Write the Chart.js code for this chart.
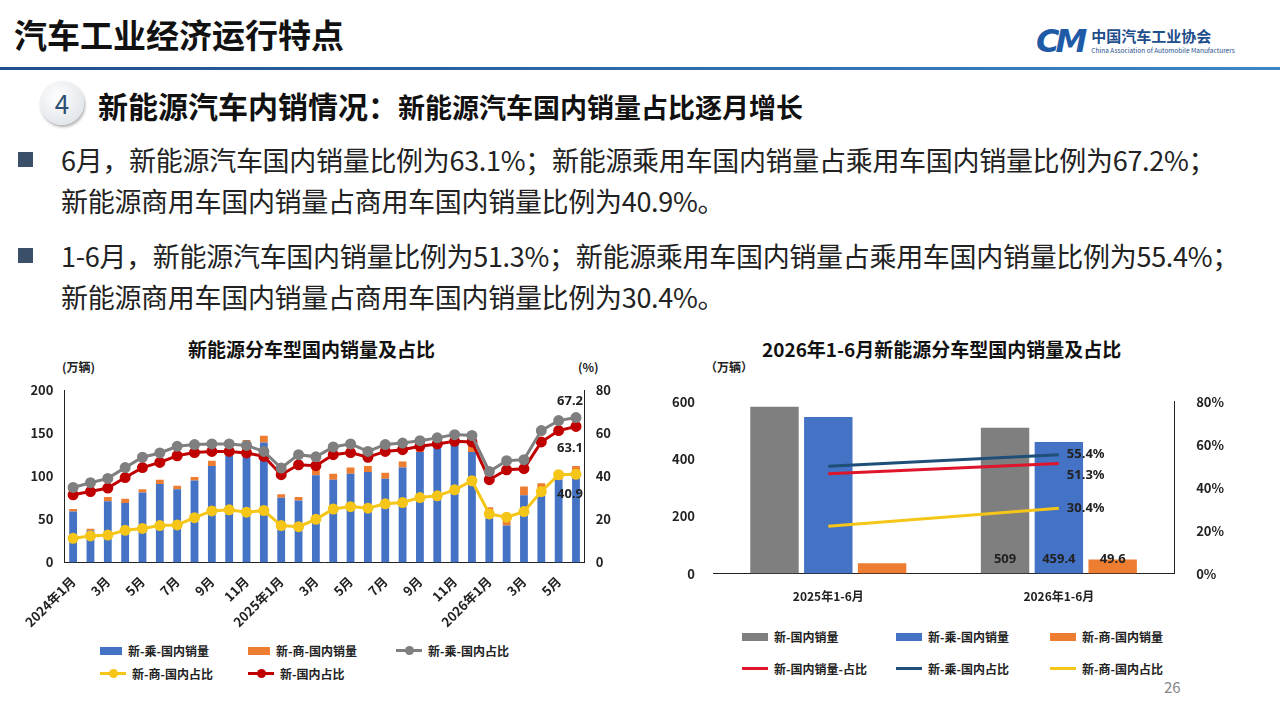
<!DOCTYPE html>
<html><head><meta charset="utf-8">
<script src="https://cdn.jsdelivr.net/npm/chart.js@4"></script>
<style>
body{margin:0;width:1280px;height:719px;background:#fff;font-family:"Noto Sans CJK SC","Noto Sans",sans-serif;position:relative;overflow:hidden;color:#222}
.abs{position:absolute}
#head{left:14px;top:10px;font-size:33px;font-weight:bold;color:#111}
#hline{left:0;top:67px;width:1280px;height:3px;background:linear-gradient(90deg,#1f4e8c,#3d86c6)}
#logo{left:1036px;top:22px;display:flex;align-items:center}
#logo .cm{font:italic bold 32px "DejaVu Sans";color:#1f5aa6;letter-spacing:-4px;margin-right:8px}
#logo .cn{font-size:15px;font-weight:bold;color:#1f4e8c;line-height:18px}
#logo .en{font-size:6.5px;color:#1f4e8c}
#badge{left:40px;top:81px;width:44px;height:44px;border-radius:50%;background:radial-gradient(circle at 40% 35%,#fff,#d8dde3);box-shadow:1px 2px 3px #aaa;text-align:center;line-height:44px;font-size:26px;color:#2f4f70}
#sub{left:98px;top:83px;font-size:30px;font-weight:bold;color:#111;white-space:nowrap}
#sub span{font-size:27px}
.bul{left:18px;font-size:27px;color:#222;line-height:41px;white-space:nowrap;letter-spacing:-0.3px}
.bul i{display:inline-block;width:15px;height:15px;background:#3a5068;margin-right:28px;vertical-align:4px}
.ct{font-size:19px;font-weight:bold;color:#111}
.u{font-size:12px;font-weight:bold;color:#222}
.lg{font-size:12px;font-weight:bold;color:#222;display:flex;align-items:center;white-space:nowrap}
.lg b{display:inline-block;width:22px;height:8px;margin-right:6px}
.lg s{display:inline-block;width:26px;height:3px;margin-right:6px;position:relative;text-decoration:none}
.lg s.d::after{content:"";position:absolute;left:9px;top:-3px;width:9px;height:9px;border-radius:50%;background:inherit}
</style></head><body>
<div id="head" class="abs">汽车工业经济运行特点</div>
<div id="logo" class="abs"><div class="cm">CM</div><div><div class="cn">中国汽车工业协会</div><div class="en">China Association of Automobile Manufacturers</div></div></div>
<div id="hline" class="abs"></div>
<div id="badge" class="abs">4</div>
<div id="sub" class="abs">新能源汽车内销情况：<span>新能源汽车国内销量占比逐月增长</span></div>
<div class="abs bul" style="top:139px"><i></i>6月，新能源汽车国内销量比例为63.1%；新能源乘用车国内销量占乘用车国内销量比例为67.2%；<br><span style="margin-left:43px">新能源商用车国内销量占商用车国内销量比例为40.9%。</span></div>
<div class="abs bul" style="top:235px"><i></i>1-6月，新能源汽车国内销量比例为51.3%；新能源乘用车国内销量占乘用车国内销量比例为55.4%；<br><span style="margin-left:43px">新能源商用车国内销量占商用车国内销量比例为30.4%。</span></div>
<div class="abs ct" style="left:188px;top:335px">新能源分车型国内销量及占比</div>
<div class="abs ct" style="left:762px;top:335px">2026年1-6月新能源分车型国内销量及占比</div>
<div class="abs u" style="left:62px;top:358px">(万辆)</div>
<div class="abs u" style="left:578px;top:358px">(%)</div>
<div class="abs u" style="left:705px;top:358px">（万辆）</div>
<div class="abs" style="left:1164px;top:676px;font-size:15px;color:#888">26</div>

<div class="abs lg" style="left:100px;top:642px"><b style="background:#4472c4"></b>新-乘-国内销量</div>
<div class="abs lg" style="left:248px;top:642px"><b style="background:#ed7d31"></b>新-商-国内销量</div>
<div class="abs lg" style="left:396px;top:642px"><s class="d" style="background:#7f7f7f"></s>新-乘-国内占比</div>
<div class="abs lg" style="left:100px;top:665px"><s class="d" style="background:#f5c518"></s>新-商-国内占比</div>
<div class="abs lg" style="left:248px;top:665px"><s class="d" style="background:#c00000"></s>新-国内占比</div>

<div class="abs lg" style="left:742px;top:628px"><b style="background:#7f7f7f;width:26px"></b>新-国内销量</div>
<div class="abs lg" style="left:896px;top:628px"><b style="background:#4472c4;width:26px"></b>新-乘-国内销量</div>
<div class="abs lg" style="left:1050px;top:628px"><b style="background:#ed7d31;width:26px"></b>新-商-国内销量</div>
<div class="abs lg" style="left:742px;top:660px"><s style="background:#e0142a"></s>新-国内销量-占比</div>
<div class="abs lg" style="left:896px;top:660px"><s style="background:#1f4e79"></s>新-乘-国内占比</div>
<div class="abs lg" style="left:1050px;top:660px"><s style="background:#f5c518"></s>新-商-国内占比</div>

<div class="abs" style="left:24px;top:378px;width:590px;height:255px"><canvas id="c1"></canvas></div>
<div class="abs" style="left:662px;top:380px;width:576px;height:232px"><canvas id="c2"></canvas></div>
<script>
// left chart data
const months = ['2024年1月','2月','3月','4月','5月','6月','7月','8月','9月','10月','11月','12月',
  '2025年1月','2月','3月','4月','5月','6月','7月','8月','9月','10月','11月','12月',
  '2026年1月','2月','3月','4月','5月','6月'];
const passVol = [59,37,71,69,81,91,85,95,112,124,137,139,75,72,101,96,103,105,97,110,128,134,137,128,51,43,78,77,96,100];
const commVol = [3,2,5,5,4,5,4,4,6,4,5,8,4,4,12,7,7,7,7,7,4,4,5,9,13,12,10,15,8,12];
const passShare = [34.8,37,39,44,48.8,50.8,53.9,54.7,55,55,54.3,51.5,43.8,50,49,53.6,55,51.5,54.7,55.4,56.5,57.8,59.3,58.9,42.2,47.2,47.7,61.2,65.8,67.2];
const commShare = [11.2,12.3,12.7,14.9,15.8,17.1,17.4,20.8,23.9,24.4,23.3,24.1,17.1,16.6,20,24.8,25.9,25.2,27.2,27.8,30.1,30.9,33.7,37.9,22.5,21,23.6,32.9,40.7,40.9];
const totalShare = [31.4,32.9,34.5,39.4,44,46.4,49.5,51,51.5,51.5,50.8,49.2,40.7,45.3,44.9,50,51,48.8,51.5,52.3,53.9,55,56.2,55.9,38.4,43,43.5,55.9,61.2,63.1];

// right chart data
const periods = ['2025年1-6月','2026年1-6月'];
const totalYtd = [583,509];
const passYtd = [547,459.4];
const commYtd = [36,49.6];
const totalYtdShare = [46.5,51.3];
const passYtdShare = [50,55.4];
const commYtdShare = [22,30.4];

const F = {family:'"Noto Sans CJK SC","Noto Sans",sans-serif',weight:'bold'};

// draws value labels next to chosen points
const valueLabels = {
  id:'valueLabels',
  afterDatasetsDraw(chart, args, opts){
    const ctx = chart.ctx;
    ctx.save();
    ctx.font = 'bold 13px "Noto Sans","Noto Sans CJK SC"';
    ctx.fillStyle = '#222';
    (opts.items||[]).forEach(it => {
      const el = chart.getDatasetMeta(it.ds).data[it.i];
      const v = chart.data.datasets[it.ds].data[it.i];
      ctx.textAlign = it.align||'center';
      ctx.textBaseline = 'middle';
      const y = it.base ? chart.scales.y.getPixelForValue(0) - 14 : el.y;
      ctx.fillText(it.text||String(v), el.x+(it.dx||0), y+(it.dy||0));
    });
    ctx.restore();
  }
};

const pt = (c)=>({borderColor:c,backgroundColor:c,pointBackgroundColor:c,pointBorderColor:c});

new Chart(document.getElementById('c1'),{
  type:'bar',
  data:{labels:months,datasets:[
    {label:'新-乘-国内销量',data:passVol,backgroundColor:'#4472c4',stack:'s',yAxisID:'y',barPercentage:0.45,categoryPercentage:1,order:2},
    {label:'新-商-国内销量',data:commVol,backgroundColor:'#ed7d31',stack:'s',yAxisID:'y',barPercentage:0.45,categoryPercentage:1,order:2},
    {label:'新-乘-国内占比',type:'line',data:passShare,yAxisID:'y2',...pt('#7f7f7f'),borderWidth:3,pointRadius:4,order:1},
    {label:'新-商-国内占比',type:'line',data:commShare,yAxisID:'y2',...pt('#f5c518'),borderWidth:3,pointRadius:4,order:1},
    {label:'新-国内占比',type:'line',data:totalShare,yAxisID:'y2',...pt('#c00000'),borderWidth:3,pointRadius:4,order:1}
  ]},
  options:{responsive:true,maintainAspectRatio:false,animation:false,
    layout:{padding:{top:12}},
    plugins:{
      legend:{display:false},
      tooltip:{enabled:false},
      valueLabels:{items:[{ds:2,i:29,dy:-16,dx:-6},{ds:4,i:29,dy:22,dx:-6},{ds:3,i:29,dy:20,dx:-6}]}
    },
    scales:{
      x:{grid:{display:false},border:{color:'#222'},
        ticks:{autoSkip:false,maxRotation:45,minRotation:45,font:{...F,size:13},color:'#222',
          callback:(v,i)=> i%2===0 ? months[i] : ''}},
      y:{min:0,max:200,ticks:{stepSize:50,font:{...F,size:13},color:'#222'},grid:{display:false},border:{color:'#222'}},
      y2:{position:'right',min:0,max:80,ticks:{stepSize:20,font:{...F,size:13},color:'#222'},grid:{display:false},border:{color:'#222'}}
    }
  },
  plugins:[valueLabels]
});

new Chart(document.getElementById('c2'),{
  type:'bar',
  data:{labels:periods,datasets:[
    {label:'新-国内销量',data:totalYtd,backgroundColor:'#7f7f7f',yAxisID:'y',order:2,barPercentage:0.9,categoryPercentage:0.7},
    {label:'新-乘-国内销量',data:passYtd,backgroundColor:'#4472c4',yAxisID:'y',order:2,barPercentage:0.9,categoryPercentage:0.7},
    {label:'新-商-国内销量',data:commYtd,backgroundColor:'#ed7d31',yAxisID:'y',order:2,barPercentage:0.9,categoryPercentage:0.7},
    {label:'新-国内销量-占比',type:'line',data:totalYtdShare,yAxisID:'y2',...pt('#e0142a'),borderWidth:3,pointRadius:0,order:1},
    {label:'新-乘-国内占比',type:'line',data:passYtdShare,yAxisID:'y2',...pt('#1f4e79'),borderWidth:3,pointRadius:0,order:1},
    {label:'新-商-国内占比',type:'line',data:commYtdShare,yAxisID:'y2',...pt('#f5c518'),borderWidth:3,pointRadius:0,order:1}
  ]},
  options:{responsive:true,maintainAspectRatio:false,animation:false,
    layout:{padding:{top:12}},
    plugins:{
      legend:{display:false},
      tooltip:{enabled:false},
      valueLabels:{items:[
        {ds:0,i:1,base:true},{ds:1,i:1,base:true},{ds:2,i:1,base:true},
        {ds:4,i:1,text:'55.4%',dx:8,align:'left'},
        {ds:3,i:1,text:'51.3%',dx:8,dy:12,align:'left'},
        {ds:5,i:1,text:'30.4%',dx:8,align:'left'}
      ]}
    },
    scales:{
      x:{grid:{display:false},border:{color:'#222'},ticks:{font:{...F,size:12},color:'#222',padding:8}},
      y:{min:0,max:600,ticks:{stepSize:200,font:{...F,size:13},color:'#222',padding:10},grid:{display:false},border:{display:false}},
      y2:{position:'right',min:0,max:80,ticks:{stepSize:20,callback:v=>v+'%',font:{...F,size:13},color:'#222',padding:14},grid:{display:false},border:{color:'#222'}}
    }
  },
  plugins:[valueLabels]
});
</script>
</body></html>
